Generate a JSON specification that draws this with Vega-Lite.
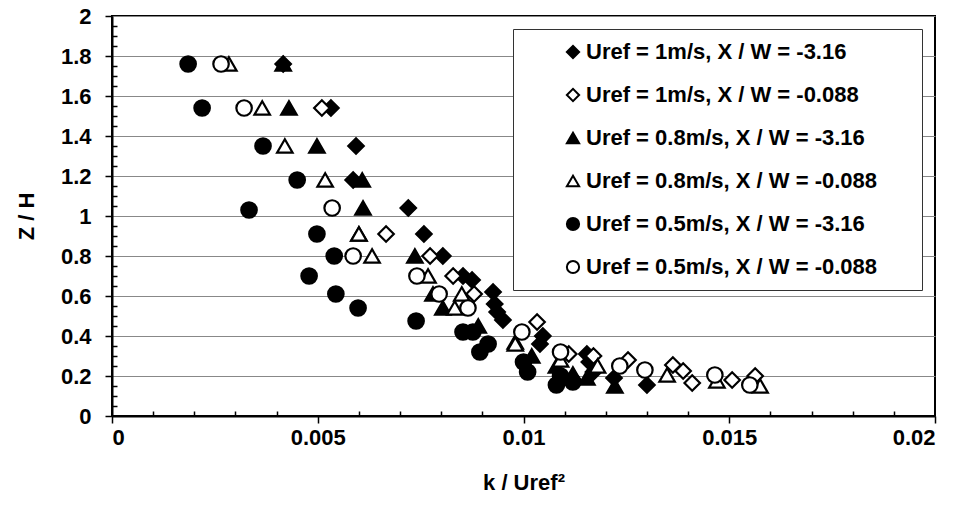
{
  "$schema": "https://vega.github.io/schema/vega-lite/v6.json",
  "autosize": {"type": "none"},
  "width": 823,
  "height": 400,
  "padding": {"left": 112, "top": 16, "right": 27, "bottom": 108},
  "background": "white",
  "config": {
    "view": {"stroke": "black", "strokeWidth": 2},
    "font": "Liberation Sans",
    "axis": {
      "labelFont": "Liberation Sans", "labelFontWeight": "bold", "labelFontSize": 22, "labelColor": "black",
      "titleFont": "Liberation Sans", "titleFontWeight": "bold", "titleFontSize": 22, "titleColor": "black",
      "domainColor": "black", "domainWidth": 2, "tickColor": "black", "tickWidth": 1.5,
      "labelOverlap": false, "labelBound": false
    },
    "legend": {
      "labelFont": "Liberation Sans", "labelFontWeight": "bold", "labelFontSize": 22, "labelColor": "black",
      "title": null, "orient": "top-right", "offset": 13, "padding": 12,
      "strokeColor": "#333333", "fillColor": "white",
      "symbolSize": 150, "symbolStrokeWidth": 2, "symbolStrokeColor": "black", "symbolOffset": 37,
      "labelOffset": 2, "rowPadding": 21, "labelLimit": 600
    }
  },
  "data": {
    "values": [
      {"series": "A", "k": 0.00416, "z": 1.76},
      {"series": "A", "k": 0.00532, "z": 1.54},
      {"series": "A", "k": 0.00593, "z": 1.35},
      {"series": "A", "k": 0.00586, "z": 1.18},
      {"series": "A", "k": 0.0072, "z": 1.04},
      {"series": "A", "k": 0.00758, "z": 0.91},
      {"series": "A", "k": 0.00804, "z": 0.80},
      {"series": "A", "k": 0.00853, "z": 0.70},
      {"series": "A", "k": 0.00875, "z": 0.68},
      {"series": "A", "k": 0.00926, "z": 0.62},
      {"series": "A", "k": 0.0093, "z": 0.56},
      {"series": "A", "k": 0.00936, "z": 0.52},
      {"series": "A", "k": 0.0095, "z": 0.48},
      {"series": "A", "k": 0.01047, "z": 0.40},
      {"series": "A", "k": 0.0104, "z": 0.36},
      {"series": "A", "k": 0.01154, "z": 0.31},
      {"series": "A", "k": 0.0116, "z": 0.27},
      {"series": "A", "k": 0.0117, "z": 0.22},
      {"series": "A", "k": 0.0122, "z": 0.19},
      {"series": "A", "k": 0.013, "z": 0.155},
      {"series": "B", "k": 0.0051, "z": 1.54},
      {"series": "B", "k": 0.00666, "z": 0.91},
      {"series": "B", "k": 0.00773, "z": 0.80},
      {"series": "B", "k": 0.00829, "z": 0.70},
      {"series": "B", "k": 0.0088, "z": 0.61},
      {"series": "B", "k": 0.01033, "z": 0.47},
      {"series": "B", "k": 0.0111, "z": 0.31},
      {"series": "B", "k": 0.0117, "z": 0.30},
      {"series": "B", "k": 0.01254, "z": 0.28},
      {"series": "B", "k": 0.01363, "z": 0.255},
      {"series": "B", "k": 0.01388, "z": 0.225},
      {"series": "B", "k": 0.0141, "z": 0.165},
      {"series": "B", "k": 0.01507, "z": 0.18},
      {"series": "B", "k": 0.01563, "z": 0.20},
      {"series": "C", "k": 0.00416, "z": 1.76},
      {"series": "C", "k": 0.0043, "z": 1.54},
      {"series": "C", "k": 0.00498, "z": 1.35},
      {"series": "C", "k": 0.00608, "z": 1.18},
      {"series": "C", "k": 0.0061, "z": 1.04},
      {"series": "C", "k": 0.006, "z": 0.91},
      {"series": "C", "k": 0.00736, "z": 0.80},
      {"series": "C", "k": 0.0078, "z": 0.61},
      {"series": "C", "k": 0.00804, "z": 0.54},
      {"series": "C", "k": 0.0089, "z": 0.45},
      {"series": "C", "k": 0.0098, "z": 0.37},
      {"series": "C", "k": 0.0102, "z": 0.30},
      {"series": "C", "k": 0.0108, "z": 0.25},
      {"series": "C", "k": 0.0112, "z": 0.21},
      {"series": "C", "k": 0.01154, "z": 0.19},
      {"series": "C", "k": 0.01222, "z": 0.15},
      {"series": "D", "k": 0.00284, "z": 1.76},
      {"series": "D", "k": 0.00365, "z": 1.54},
      {"series": "D", "k": 0.0042, "z": 1.35},
      {"series": "D", "k": 0.00518, "z": 1.18},
      {"series": "D", "k": 0.006, "z": 0.91},
      {"series": "D", "k": 0.00632, "z": 0.80},
      {"series": "D", "k": 0.00768, "z": 0.70},
      {"series": "D", "k": 0.0085, "z": 0.61},
      {"series": "D", "k": 0.00833, "z": 0.54},
      {"series": "D", "k": 0.0098, "z": 0.36},
      {"series": "D", "k": 0.0109, "z": 0.28},
      {"series": "D", "k": 0.0118, "z": 0.25},
      {"series": "D", "k": 0.01349, "z": 0.205},
      {"series": "D", "k": 0.0147, "z": 0.175},
      {"series": "D", "k": 0.01575, "z": 0.15},
      {"series": "E", "k": 0.00185, "z": 1.76},
      {"series": "E", "k": 0.00219, "z": 1.54},
      {"series": "E", "k": 0.00367, "z": 1.35},
      {"series": "E", "k": 0.0045, "z": 1.18},
      {"series": "E", "k": 0.00333, "z": 1.03},
      {"series": "E", "k": 0.00498, "z": 0.91},
      {"series": "E", "k": 0.0054, "z": 0.80},
      {"series": "E", "k": 0.00479, "z": 0.70},
      {"series": "E", "k": 0.00544, "z": 0.61},
      {"series": "E", "k": 0.00598, "z": 0.54},
      {"series": "E", "k": 0.00739, "z": 0.475},
      {"series": "E", "k": 0.00853, "z": 0.42},
      {"series": "E", "k": 0.00877, "z": 0.42},
      {"series": "E", "k": 0.00914, "z": 0.36},
      {"series": "E", "k": 0.00894, "z": 0.32},
      {"series": "E", "k": 0.01, "z": 0.27},
      {"series": "E", "k": 0.0101, "z": 0.22},
      {"series": "E", "k": 0.0109, "z": 0.20},
      {"series": "E", "k": 0.0112, "z": 0.17},
      {"series": "E", "k": 0.0108, "z": 0.155},
      {"series": "F", "k": 0.00265, "z": 1.76},
      {"series": "F", "k": 0.00321, "z": 1.54},
      {"series": "F", "k": 0.00535, "z": 1.04},
      {"series": "F", "k": 0.00586, "z": 0.80},
      {"series": "F", "k": 0.00741, "z": 0.70},
      {"series": "F", "k": 0.00795, "z": 0.61},
      {"series": "F", "k": 0.00865, "z": 0.54},
      {"series": "F", "k": 0.00996, "z": 0.42},
      {"series": "F", "k": 0.0109, "z": 0.32},
      {"series": "F", "k": 0.01234, "z": 0.25},
      {"series": "F", "k": 0.01295, "z": 0.23},
      {"series": "F", "k": 0.01465, "z": 0.205},
      {"series": "F", "k": 0.0155, "z": 0.155}
    ]
  },
  "mark": {"type": "point", "filled": false, "size": 240, "strokeWidth": 2.2, "opacity": 1},
  "encoding": {
    "x": {
      "field": "k", "type": "quantitative", "title": "k / Uref²",
      "scale": {"domain": [0, 0.02], "nice": false, "zero": false},
      "axis": {
        "values": [0,0.001,0.002,0.003,0.004,0.005,0.006,0.007,0.008,0.009,0.01,0.011,0.012,0.013,0.014,0.015,0.016,0.017,0.018,0.019,0.02],
        "labelExpr": "abs(datum.value*200-round(datum.value*200))<1e-6 ? format(datum.value,'~g') : ''",
        "grid": false,
        "tickSize": {"condition": {"test": "abs(datum.value*200-round(datum.value*200))<1e-6", "value": 7}, "value": -5},
        "labelPadding": 4,
        "titlePadding": 24
      }
    },
    "y": {
      "field": "z", "type": "quantitative", "title": "Z / H",
      "scale": {"domain": [0, 2], "nice": false},
      "axis": {
        "values": [0,0.05,0.1,0.15,0.2,0.25,0.3,0.35,0.4,0.45,0.5,0.55,0.6,0.65,0.7,0.75,0.8,0.85,0.9,0.95,1,1.05,1.1,1.15,1.2,1.25,1.3,1.35,1.4,1.45,1.5,1.55,1.6,1.65,1.7,1.75,1.8,1.85,1.9,1.95,2],
        "labelExpr": "abs(datum.value*5-round(datum.value*5))<1e-6 ? format(datum.value,'~g') : ''",
        "grid": true,
        "gridColor": {"condition": {"test": "abs(datum.value*5-round(datum.value*5))<1e-6", "value": "#888888"}, "value": "transparent"},
        "gridWidth": 1.2,
        "tickSize": {"condition": {"test": "abs(datum.value*5-round(datum.value*5))<1e-6", "value": 7}, "value": -5},
        "labelPadding": 14,
        "titlePadding": 22
      }
    },
    "shape": {
      "field": "series", "type": "nominal",
      "scale": {
        "domain": ["A","B","C","D","E","F"],
        "range": ["diamond","diamond","triangle-up","triangle-up","circle","circle"]
      },
      "legend": {
        "labelExpr": "({'A':'Uref = 1m/s, X / W = -3.16','B':'Uref = 1m/s, X / W = -0.088','C':'Uref = 0.8m/s, X / W = -3.16','D':'Uref = 0.8m/s, X / W = -0.088','E':'Uref = 0.5m/s, X / W = -3.16','F':'Uref = 0.5m/s, X / W = -0.088'})[datum.label] + '\u2800\u2800'"
      }
    },
    "fill": {
      "field": "series", "type": "nominal",
      "scale": {
        "domain": ["A","B","C","D","E","F"],
        "range": ["black","white","black","white","black","white"]
      },
      "legend": {
        "labelExpr": "({'A':'Uref = 1m/s, X / W = -3.16','B':'Uref = 1m/s, X / W = -0.088','C':'Uref = 0.8m/s, X / W = -3.16','D':'Uref = 0.8m/s, X / W = -0.088','E':'Uref = 0.5m/s, X / W = -3.16','F':'Uref = 0.5m/s, X / W = -0.088'})[datum.label] + '\u2800\u2800'"
      }
    },
    "stroke": {
      "field": "series", "type": "nominal",
      "scale": {
        "domain": ["A","B","C","D","E","F"],
        "range": ["black","black","black","black","black","black"]
      },
      "legend": {
        "labelExpr": "({'A':'Uref = 1m/s, X / W = -3.16','B':'Uref = 1m/s, X / W = -0.088','C':'Uref = 0.8m/s, X / W = -3.16','D':'Uref = 0.8m/s, X / W = -0.088','E':'Uref = 0.5m/s, X / W = -3.16','F':'Uref = 0.5m/s, X / W = -0.088'})[datum.label] + '\u2800\u2800'"
      }
    }
  }
}
